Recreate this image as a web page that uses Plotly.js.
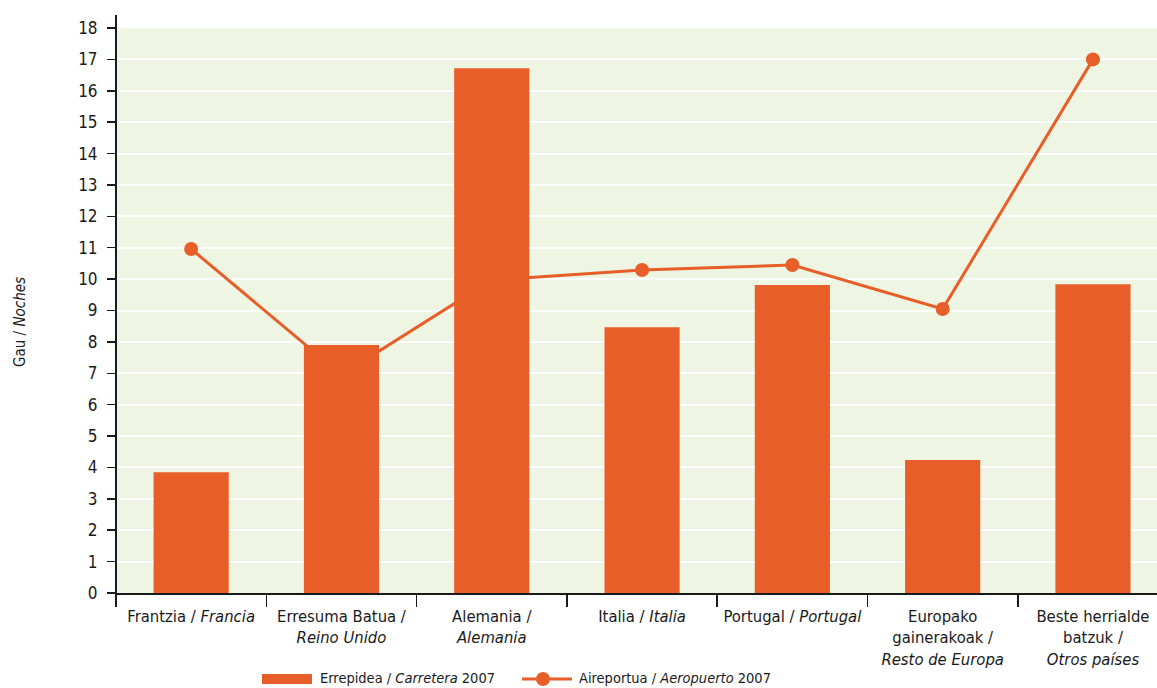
<!DOCTYPE html>
<html>
<head>
<meta charset="utf-8">
<script src="https://cdn.plot.ly/plotly-3.0.1.min.js"></script>
<style>html,body{margin:0;padding:0;background:#fff;}#chart{width:1157px;height:688px;}</style>
</head>
<body>
<div id="chart"></div>
<script>
var categories = [
  "Frantzia / <i>Francia</i>",
  "Erresuma Batua /<br><i>Reino Unido</i>",
  "Alemania /<br><i>Alemania</i>",
  "Italia / <i>Italia</i>",
  "Portugal / <i>Portugal</i>",
  "Europako<br>gainerakoak /<br><i>Resto de Europa</i>",
  "Beste herrialde<br>batzuk /<br><i>Otros países</i>"
];
var carretera2007 = [3.85, 7.9, 16.72, 8.47, 9.81, 4.24, 9.84];
var aeropuerto2007 = [10.96, 6.95, 9.97, 10.29, 10.45, 9.05, 17.0];
var yTicks = [0,1,2,3,4,5,6,7,8,9,10,11,12,13,14,15,16,17,18];
var seriesNames = ["Errepidea / <i>Carretera</i> 2007", "Aireportua / <i>Aeropuerto</i> 2007"];
var yTitle = "Gau / <i>Noches</i>";

var ORANGE = "#E85E28";
var INK = "#1a1a1a";
var FONT = "'Liberation Sans Narrow', 'DejaVu Sans Condensed', 'Roboto Condensed', 'Arial Narrow', Roboto, sans-serif";

var traces = [
  {
    type: "scatter", mode: "lines+markers",
    x: categories, y: aeropuerto2007, name: seriesNames[1],
    xaxis: "x", yaxis: "y",
    line: {color: ORANGE, width: 3},
    marker: {color: ORANGE, size: 14},
    showlegend: false, hoverinfo: "skip", cliponaxis: false
  },
  {
    type: "bar",
    x: categories, y: carretera2007, name: seriesNames[0],
    xaxis: "x", yaxis: "y2",
    marker: {color: ORANGE},
    width: 0.5,
    showlegend: false, hoverinfo: "skip"
  }
];

var W = 1041, H = 565;
function px(xpx){ return (xpx - 116) / W; }
function py(ypx){ return (593 - ypx) / H; }

var layout = {
  width: 1157, height: 688,
  margin: {l: 116, r: 0, t: 28, b: 95},
  paper_bgcolor: "#ffffff",
  plot_bgcolor: "#EEF5E2",
  font: {family: FONT, size: 16, color: INK},
  showlegend: false,
  xaxis: {
    type: "category",
    range: [-0.5, 6.426],
    tickson: "boundaries",
    ticks: "outside", ticklen: 12, tickwidth: 1.5, tickcolor: INK,
    showline: true, linecolor: INK, linewidth: 2,
    showgrid: false,
    ticklabelstandoff: 7,
    tickfont: {family: FONT, size: 16.5, color: INK},
    fixedrange: true
  },
  yaxis: {
    range: [0, 18],
    tickvals: yTicks,
    ticks: "outside", ticklen: 8, tickwidth: 1.5, tickcolor: INK,
    showline: false,
    showgrid: true, gridcolor: "#ffffff", gridwidth: 2,
    zeroline: false,
    ticklabelstandoff: 6,
    tickfont: {family: FONT, size: 17, color: INK},
    fixedrange: true
  },
  yaxis2: {
    range: [0, 18], overlaying: "y", visible: false, fixedrange: true
  },
  bargap: 0.5,
  shapes: [
    {type: "line", xref: "paper", yref: "paper", x0: 0, x1: 0, y0: py(605), y1: py(15),
     line: {color: INK, width: 2}},
    {type: "rect", xref: "paper", yref: "paper", x0: px(262), x1: px(312), y0: py(684), y1: py(674),
     fillcolor: ORANGE, line: {width: 0}},
    {type: "line", xref: "paper", yref: "paper", x0: px(522), x1: px(572), y0: py(679), y1: py(679),
     line: {color: ORANGE, width: 3}},
    {type: "circle", xref: "paper", yref: "paper", x0: px(536), x1: px(550), y0: py(686), y1: py(672),
     fillcolor: ORANGE, line: {width: 0}}
  ],
  annotations: [
    {xref: "paper", yref: "paper", x: px(318), y: py(678), xanchor: "left", yanchor: "middle",
     text: seriesNames[0], showarrow: false, font: {family: FONT, size: 14.5, color: INK}},
    {xref: "paper", yref: "paper", x: px(577), y: py(678), xanchor: "left", yanchor: "middle",
     text: seriesNames[1], showarrow: false, font: {family: FONT, size: 14.5, color: INK}},
    {xref: "paper", yref: "paper", x: px(20), y: py(322), xanchor: "center", yanchor: "middle",
     textangle: -90, text: yTitle, showarrow: false, font: {family: FONT, size: 15, color: INK}}
  ]
};

Plotly.newPlot("chart", traces, layout, {displayModeBar: false, staticPlot: true});
</script>
</body>
</html>
